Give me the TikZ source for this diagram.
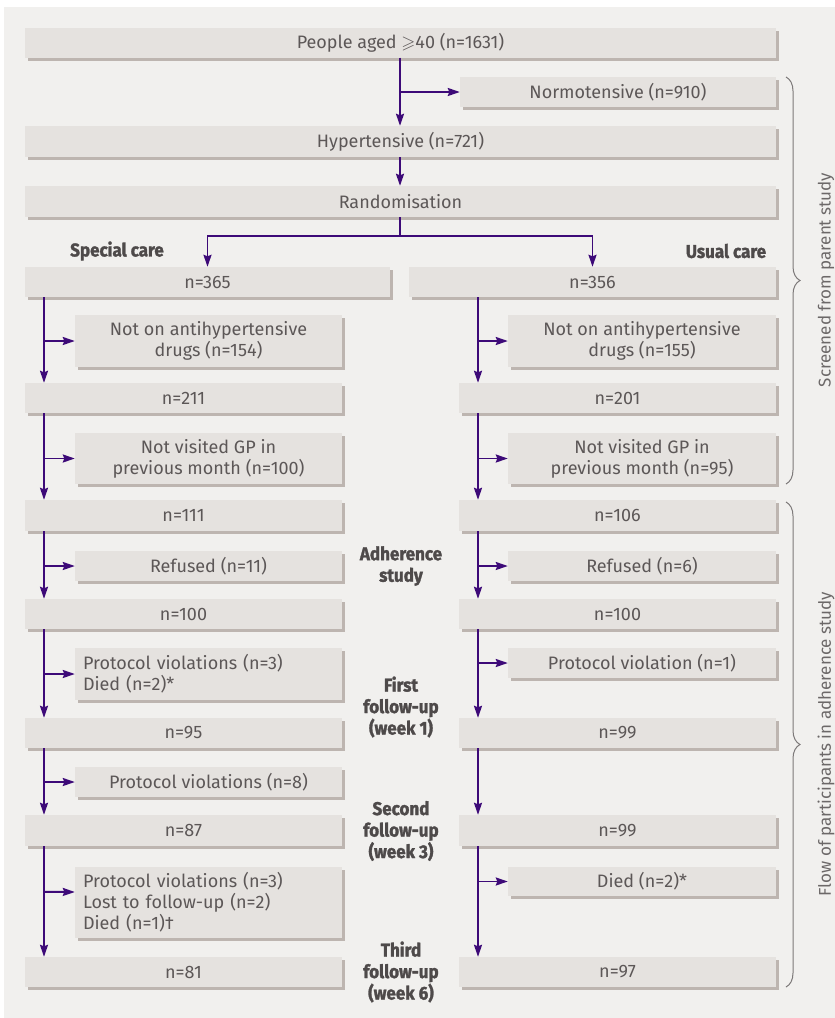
\documentclass[tikz,border=0pt]{standalone}
\usepackage{amssymb}
\usepackage{fontspec}
\setmainfont{Fira Sans}
\newfontfamily\headfont{Fira Sans}[FakeStretch=0.92,BoldFeatures={FakeBold=1.6}]
\usetikzlibrary{arrows.meta,shadows,decorations.pathreplacing}
\definecolor{bgc}{HTML}{F1F0EE}
\definecolor{boxc}{HTML}{E5E2DF}
\definecolor{shc}{HTML}{BDB5B0}
\definecolor{txtc}{HTML}{5C5757}
\definecolor{flowc}{HTML}{3D0A78}
\tikzset{
  box/.style={fill=boxc,text=txtc,inner sep=0pt,minimum height=30pt,align=center,
    font=\fontsize{18}{21}\selectfont,
    drop shadow={shadow xshift=3pt,shadow yshift=-3pt,fill=shc,opacity=1}},
  lbox/.style={box,align=left,text width=#1,inner xsep=8pt},
  head/.style={text=txtc!85!black,align=center,font=\headfont\bfseries\fontsize{18.5}{21.5}\selectfont},
  line/.style={draw=flowc,line width=1.9pt},
  flow/.style={line,-{Stealth[length=12pt,width=8pt,inset=1.5pt]}},
  side/.style={draw=txtc!80,line width=1pt,decorate,decoration={brace,amplitude=14pt}},
}
\begin{document}
\begin{tikzpicture}[x=1pt,y=-1pt]
\useasboundingbox (0,0) rectangle (835,1018);
\fill[bgc] (4,7) rectangle (835,1018);
% top part
\node[box,minimum width=751] (people) at (400.5,42.5) {People aged $\geqslant$40 (n=1631)};
\node[box,minimum width=316] (normo) at (618,92) {Normotensive (n=910)};
\node[box,minimum width=751,minimum height=31] (hyper) at (400.5,141.5) {Hypertensive (n=721)};
\node[box,minimum width=751,minimum height=31] (random) at (400.5,201.5) {Randomisation};
\node[head] (special) at (117,251) {Special care};
\node[head] (usual) at (726,251) {Usual care};
% special care
\node[box,minimum width=365] (n365) at (207.5,282) {n=365};
\node[box,minimum width=267,minimum height=52] (drugsL) at (208.5,341) {Not on antihypertensive\\drugs (n=154)};
\node[box,minimum width=317] (n211) at (183.5,398) {n=211};
\node[box,minimum width=267,minimum height=51] (gpL) at (208.5,458.5) {Not visited GP in\\previous month (n=100)};
\node[box,minimum width=317,minimum height=31] (n111) at (183.5,515.5) {n=111};
\node[box,minimum width=267] (refL) at (208.5,566) {Refused (n=11)};
\node[box,minimum width=317] (n100L) at (183.5,614) {n=100};
\node[lbox=251pt,minimum height=52] (protA) at (208.5,674) {Protocol violations (n=3)\\Died (n=2)*};
\node[box,minimum width=317] (n95) at (183.5,733) {n=95};
\node[box,minimum width=267] (protB) at (208.5,782) {Protocol violations (n=8)};
\node[box,minimum width=317,minimum height=31] (n87) at (183.5,830.5) {n=87};
\node[lbox=251pt,minimum height=71] (protC) at (208.5,902.5) {Protocol violations (n=3)\\Lost to follow-up (n=2)\\Died (n=1)\textdagger};
\node[box,minimum width=317] (n81) at (183.5,972) {n=81};
% usual care
\node[box,minimum width=367] (n356) at (592.5,282) {n=356};
\node[box,minimum width=268,minimum height=52] (drugsR) at (642,341) {Not on antihypertensive\\drugs (n=155)};
\node[box,minimum width=317] (n201) at (617.5,398) {n=201};
\node[box,minimum width=268,minimum height=51] (gpR) at (642,458.5) {Not visited GP in\\previous month (n=95)};
\node[box,minimum width=317,minimum height=31] (n106) at (617.5,515.5) {n=106};
\node[box,minimum width=268] (refR) at (642,566) {Refused (n=6)};
\node[box,minimum width=317] (n100R) at (617.5,614) {n=100};
\node[box,minimum width=268] (protR) at (642,663) {Protocol violation (n=1)};
\node[box,minimum width=317] (n99a) at (617.5,733) {n=99};
\node[box,minimum width=317,minimum height=31] (n99b) at (617.5,830.5) {n=99};
\node[box,minimum width=268,minimum height=29] (diedR) at (642,881.5) {Died (n=2)*};
\node[box,minimum width=317] (n97) at (617.5,972) {n=97};
% stage labels
\node[head] (adh) at (401,566) {Adherence\\study};
\node[head] (fu1) at (401,707) {First\\follow-up\\(week 1)};
\node[head] (fu2) at (401,831) {Second\\follow-up\\(week 3)};
\node[head] (fu3) at (401,972) {Third\\follow-up\\(week 6)};
% arrows
\coordinate (mx) at (400,0);
\coordinate (lx) at (44,0);
\coordinate (rx) at (478,0);
\coordinate (split) at (400,236);
\draw[flow] (people.south -| mx) -- (hyper.north -| mx);
\draw[flow] (mx |- normo.west) -- (normo.west);
\draw[flow] (hyper.south -| mx) -- (random.north -| mx);
\draw[line] (random.south -| mx) -- (split);
\draw[flow] (split) -| (n365.north);
\draw[flow] (split) -| (n356.north);
\foreach \a/\b/\s in {n365/n211/drugsL,n211/n111/gpL,n111/n100L/refL,n100L/n95/protA,n95/n87/protB}{
  \draw[flow] (\a.south -| lx) -- (\b.north -| lx);
  \draw[flow] (lx |- \s.west) -- (\s.west);
}
\draw[flow] (n87.south -| lx) -- (n81.north -| lx);
\draw[flow] (lx |- protC.north) ++(0,25) -- (protC.west |- 0,892);
\foreach \a/\b/\s in {n356/n201/drugsR,n201/n106/gpR,n106/n100R/refR,n100R/n99a/protR,n99b/n97/diedR}{
  \draw[flow] (\a.south -| rx) -- (\b.north -| rx);
  \draw[flow] (rx |- \s.west) -- (\s.west);
}
\draw[flow] (n99a.south -| rx) -- (n99b.north -| rx);
% braces
\draw[side] (786,77) -- (786,484);
\draw[side] (786,502) -- (786,987);
\node[text=txtc!90,rotate=90,font=\fontsize{17}{20}\selectfont] (screen) at (826,280) {Screened from parent study};
\node[text=txtc!90,rotate=90,font=\fontsize{17}{20}\selectfont] (adhflow) at (826,744) {Flow of participants in adherence study};
\end{tikzpicture}
\end{document}
